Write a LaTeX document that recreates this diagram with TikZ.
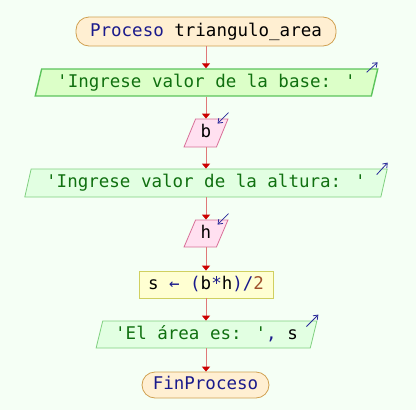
\documentclass[tikz,border=0pt]{standalone}
\usepackage{fontspec}
\newfontfamily\monof{DejaVu Sans Mono}
\usetikzlibrary{shapes.geometric,arrows.meta,calc}
\definecolor{bg}{HTML}{F5FFF5}
\definecolor{kw}{HTML}{1A1A8C}
\definecolor{str}{HTML}{107010}
\definecolor{num}{HTML}{A0522D}
\definecolor{conn}{HTML}{E07878}
\definecolor{tipc}{HTML}{CC0000}
\definecolor{termfill}{HTML}{FFEFD2}
\definecolor{termdraw}{HTML}{D0A050}
\definecolor{outfill}{HTML}{E2FFE2}
\definecolor{outdraw}{HTML}{80D080}
\definecolor{hlfill}{HTML}{DCFFC8}
\definecolor{hldraw}{HTML}{5CC45C}
\definecolor{infill}{HTML}{FFE0F0}
\definecolor{indraw}{HTML}{D87098}
\definecolor{asfill}{HTML}{FFFFD2}
\definecolor{asdraw}{HTML}{D0D060}
\definecolor{icon}{HTML}{2A2A9A}
\tikzset{
  x=1pt, y=-1pt,
  every node/.style={font=\monof\fontsize{17.5}{20}\selectfont, inner sep=0pt, text height=12.5pt, text depth=3.5pt},
  term/.style={draw=termdraw, fill=termfill, rounded corners=13pt, line width=0.8pt},
  para/.style={trapezium, trapezium left angle=70, trapezium right angle=110, trapezium stretches=true, line width=0.8pt},
  outbox/.style={para, draw=outdraw, fill=outfill},
  hlbox/.style={para, draw=hldraw, fill=hlfill, line width=1.4pt},
  inbox/.style={para, draw=indraw, fill=infill},
  asbox/.style={draw=asdraw, fill=asfill, line width=0.8pt},
  conn/.style={draw=conn, line width=1pt, -{Triangle[width=8pt,length=5pt,color=tipc]}},
  ico/.style={draw=icon, line width=0.8pt, -{Straight Barb[length=4pt,width=6pt]}},
}
\begin{document}
\begin{tikzpicture}
\fill[bg] (0,0) rectangle (416,410);
\useasboundingbox (0,0) rectangle (416,410);

\node[term, minimum width=260pt, minimum height=29pt] (start) at (206,31.5) {\textcolor{kw}{Proceso} triangulo\_area};
\node[hlbox, minimum width=343pt, minimum height=27pt] (in1) at (206.5,82.5) {\textcolor{str}{'Ingrese valor de la base: '}};
\node[inbox, minimum width=44pt, minimum height=28pt] (rb) at (206,133) {b};
\node[outbox, minimum width=364pt, minimum height=28pt] (in2) at (206,183) {\textcolor{str}{'Ingrese valor de la altura: '}};
\node[inbox, minimum width=44pt, minimum height=27pt] (rh) at (206,233.5) {h};
\node[asbox, minimum width=134pt, minimum height=27pt] (as) at (206,284.5) {s \textcolor{kw}{←} \textcolor{kw}{(}b\textcolor{kw}{*}h\textcolor{kw}{)/}\textcolor{num}{2}};
\node[outbox, minimum width=221pt, minimum height=27pt] (out) at (206.5,334.5) {\textcolor{str}{'El área es: '}\textcolor{kw}{,} s};
\node[term, minimum width=127pt, minimum height=26pt] (fin) at (205.5,385) {\textcolor{kw}{FinProceso}};

\draw[conn] (start.south) -- (start.south |- in1.north);
\draw[conn] (in1.south -| rb.north) -- (rb.north);
\draw[conn] (rb.south) -- (rb.south |- in2.north);
\draw[conn] (in2.south -| rh.north) -- (rh.north);
\draw[conn] (rh.south) -- (as.north -| rh.south);
\draw[conn] (as.south -| rh.south) -- (out.north -| rh.south);
\draw[conn] (out.south -| rh.south) -- (fin.north -| rh.south);

\draw[ico] ($(in1.top right corner)+(-12,4)$) -- ($(in1.top right corner)+(-1,-6)$);
\draw[ico] ($(in2.top right corner)+(-11,6)$) -- ($(in2.top right corner)+(0,-6)$);
\draw[ico] ($(out.top right corner)+(-11,6)$) -- ($(out.top right corner)+(1,-6)$);
\draw[ico] ($(rb.top right corner)+(0,-6)$) -- ($(rb.top right corner)+(-11,5)$);
\draw[ico] ($(rh.top right corner)+(0,-6)$) -- ($(rh.top right corner)+(-11,5)$);
\end{tikzpicture}
\end{document}
